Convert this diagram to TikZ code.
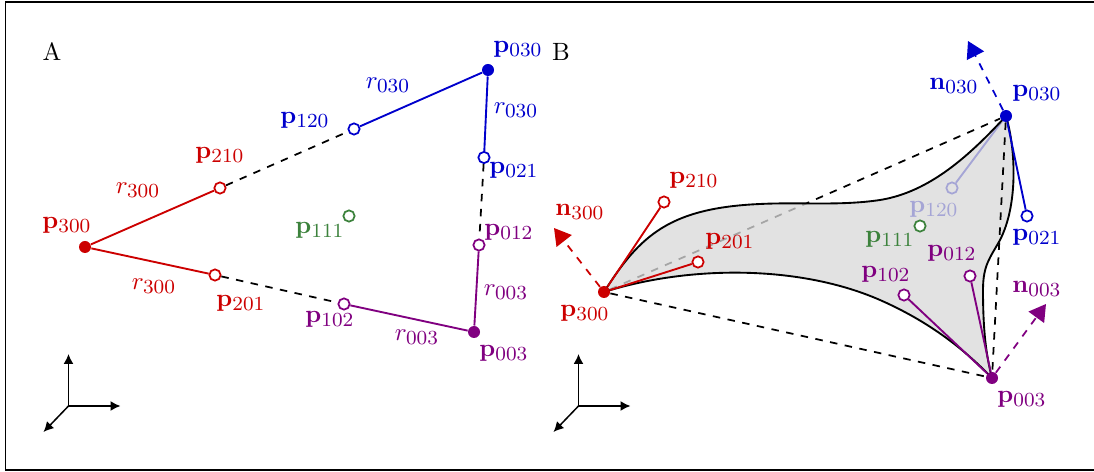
\documentclass[tikz,border=0pt]{standalone}
\usepackage{amsmath,amssymb}
\usetikzlibrary{arrows.meta,backgrounds}
\DeclareMathSizes{10}{10}{8}{6}
\definecolor{cred}{RGB}{204,0,0}
\definecolor{cblue}{RGB}{0,0,204}
\definecolor{cpurple}{RGB}{128,0,128}
\definecolor{cgreen}{RGB}{60,130,60}
\tikzset{ring/.style={circle,draw=#1,fill=white,line width=.7pt,inner sep=0pt,minimum size=4.5pt},
 dot/.style={circle,fill,inner sep=0pt,minimum size=4.8pt},
 tag/.style={inner sep=0pt,font=\normalsize},
 solidln/.style={line width=.75pt},dashln/.style={line width=.7pt,dashed},
 nrm/.style={line width=.7pt,dashed,-{Triangle[length=6.6pt,width=7.6pt]}},
 axisln/.style={line width=.6pt,-{Latex[length=4pt,width=4pt]}},
 surf/.style={draw=black,line width=.75pt,fill=black!15,fill opacity=.76}}
\begin{document}
\begin{tikzpicture}[x=.4pt,y=-.4pt]
\useasboundingbox (0,0) rectangle (1094,472);
\clip (0,0) rectangle (1094,472);
\node[rectangle,draw,line width=.7pt,minimum width=480pt,minimum height=187.2pt,anchor=north west,inner sep=0pt] (frame) at (4.5,1) {};
\node[tag] (titleA) at (52,52) {A};
\node[tag] (titleB) at (561,52) {B};
% flat triangle
\node[dot,cred] (a300) at (85,247) {};
\node[dot,cblue] (a030) at (488,70) {};
\node[dot,cpurple] (a003) at (474,332) {};
\node[ring=cred] (a210) at (220,188) {};
\node[ring=cred] (a201) at (215,275) {};
\node[ring=cblue] (a120) at (354,129) {};
\node[ring=cblue] (a021) at (484,157.5) {};
\node[ring=cpurple] (a012) at (479,245) {};
\node[ring=cpurple] (a102) at (344,304) {};
\node[ring=cgreen] (a111) at (349,216) {};
\foreach \n in {a210,a201}{\draw[solidln,cred] (a300)--(\n);}
\foreach \n in {a120,a021}{\draw[solidln,cblue] (a030)--(\n);}
\foreach \n in {a012,a102}{\draw[solidln,cpurple] (a003)--(\n);}
\draw[dashln] (a210)--(a120);
\draw[dashln] (a021)--(a012);
\draw[dashln] (a201)--(a102);
\node[tag,cred] (la300) at (67,225) {$\mathbf{p}_{300}$};
\node[tag,cred] (la210) at (220,155) {$\mathbf{p}_{210}$};
\node[tag,cred] (la201) at (241,303) {$\mathbf{p}_{201}$};
\node[tag,cblue] (la120) at (305,120) {$\mathbf{p}_{120}$};
\node[tag,cblue] (la030) at (518,49) {$\mathbf{p}_{030}$};
\node[tag,cblue] (la021) at (514,170) {$\mathbf{p}_{021}$};
\node[tag,cpurple] (la012) at (509,232) {$\mathbf{p}_{012}$};
\node[tag,cpurple] (la003) at (504,353) {$\mathbf{p}_{003}$};
\node[tag,cpurple] (la102) at (330,319) {$\mathbf{p}_{102}$};
\node[tag,cgreen] (la111) at (320,230) {$\mathbf{p}_{111}$};
\node[tag,cred] (ra300) at (138,190) {$r_{300}$};
\node[tag,cred] (rb300) at (154,286) {$r_{300}$};
\node[tag,cblue] (ra030) at (388,85) {$r_{030}$};
\node[tag,cblue] (rb030) at (516,110) {$r_{030}$};
\node[tag,cpurple] (ra003) at (506,292) {$r_{003}$};
\node[tag,cpurple] (rb003) at (417,337) {$r_{003}$};
% curved patch
\node[dot,cred] (b300) at (604,292) {};
\node[dot,cblue] (b030) at (1006,116) {};
\node[dot,cpurple] (b003) at (992,378) {};
\node[ring=cred] (b210) at (664,202) {};
\node[ring=cred] (b201) at (698,262) {};
\node[ring=cblue] (b021) at (1027,216) {};
\node[ring=cpurple] (b012) at (970,276) {};
\node[ring=cpurple] (b102) at (904,295) {};
\node[ring=cgreen] (b111) at (920,226) {};
\begin{scope}[on background layer]
\draw[dashln] (b300)--(b030);
\node[ring=cblue] (b120) at (952,188) {};
\draw[solidln,cblue] (b030)--(b120);
\node[tag,cblue] (lb120) at (934,209) {$\mathbf{p}_{120}$};
\draw[surf] (b300.center) .. controls (640,235) and (670,208) .. (760,204) .. controls (800,202) and (840,206) .. (880,200) .. controls (930,192) and (970,155) .. (b030.center) .. controls (1016,150) and (1018,205) .. (1000,240) .. controls (990,258) and (983,265) .. (983,290) .. controls (983,330) and (986,355) .. (b003.center) .. controls (965,350) and (930,322) .. (880,300) .. controls (800,265) and (690,265) .. (b300.center) -- cycle;
\draw[dashln] (b030)--(b003);
\draw[dashln] (b300)--(b003);
\end{scope}
\foreach \n in {b210,b201}{\draw[solidln,cred] (b300)--(\n);}
\draw[solidln,cblue] (b030)--(b021);
\foreach \n in {b012,b102}{\draw[solidln,cpurple] (b003)--(\n);}
\coordinate (n300) at (554,228);
\coordinate (n030) at (968,41);
\coordinate (n003) at (1046,304);
\draw[nrm,cred] (b300)--(n300);
\draw[nrm,cblue] (b030)--(n030);
\draw[nrm,cpurple] (b003)--(n003);
\node[tag,cred] (lb300) at (585,313) {$\mathbf{p}_{300}$};
\node[tag,cred] (lb210) at (694,180) {$\mathbf{p}_{210}$};
\node[tag,cred] (lb201) at (730,241) {$\mathbf{p}_{201}$};
\node[tag,cred] (ln300) at (580,212) {$\mathbf{n}_{300}$};
\node[tag,cblue] (ln030) at (954,86) {$\mathbf{n}_{030}$};
\node[tag,cblue] (lb030) at (1037,93) {$\mathbf{p}_{030}$};
\node[tag,cblue] (lb021) at (1037,237) {$\mathbf{p}_{021}$};
\node[tag,cgreen] (lb111) at (890,239) {$\mathbf{p}_{111}$};
\node[tag,cpurple] (lb012) at (952,253) {$\mathbf{p}_{012}$};
\node[tag,cpurple] (lb102) at (886,274) {$\mathbf{p}_{102}$};
\node[tag,cpurple] (ln003) at (1037,289) {$\mathbf{n}_{003}$};
\node[tag,cpurple] (lb003) at (1022,399) {$\mathbf{p}_{003}$};
% axes
\foreach \n/\x in {A/68.5,B/578.5}{
 \coordinate (o\n) at (\x,406);
 \coordinate (u\n) at (\x,354);
 \coordinate (r\n) at (\x+52,406);
 \coordinate (d\n) at (\x-25,432);
 \draw[axisln] (o\n)--(u\n);
 \draw[axisln] (o\n)--(r\n);
 \draw[axisln] (o\n)--(d\n);
}
\end{tikzpicture}
\end{document}
